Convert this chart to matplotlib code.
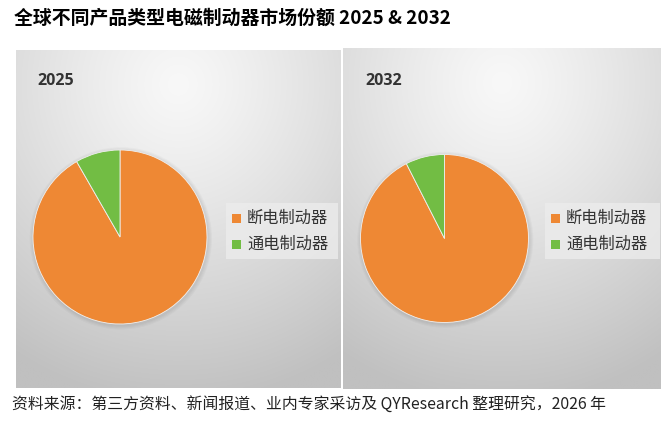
import numpy as np
import matplotlib
matplotlib.use("Agg")
import matplotlib.pyplot as plt
from matplotlib.patches import Rectangle

plt.rcParams['font.family'] = ['Noto Sans CJK SC', 'DejaVu Sans']

# ---- data ----
title = "全球不同产品类型电磁制动器市场份额 2025 & 2032"
years = ["2025", "2032"]
categories = ["断电制动器", "通电制动器"]
share_2025 = [91.7, 8.3]
share_2032 = [92.5, 7.5]
shares = [share_2025, share_2032]
colors = ["#EE8834", "#72BD44"]
source = "资料来源：第三方资料、新闻报道、业内专家采访及 QYResearch 整理研究，2026 年"

W, H = 670, 426
fig = plt.figure(figsize=(W / 100, H / 100), dpi=100)
fig.patch.set_facecolor("white")

def fx(px):
    return px / W

def fy(py):
    return 1 - py / H

def add_axes_px(x0, y0, x1, y1, **kw):
    return fig.add_axes([fx(x0), fy(y1), fx(x1 - x0), (y1 - y0) / H], **kw)

# panels (pixel boxes)
panels = [(16, 50, 341, 388), (343, 48, 661, 389)]
pies = [(120, 237, 87), (444.5, 238.5, 84)]
legends = [(226, 203, 338, 259), (545, 203, 660, 259)]
label_pos = [(37, 81), (365, 81)]

for i, (x0, y0, x1, y1) in enumerate(panels):
    bg = add_axes_px(x0, y0, x1, y1)
    bg.set_axis_off()
    ny, nx = 200, 200
    yy, xx = np.mgrid[0:1:ny * 1j, 0:1:nx * 1j]
    d = np.sqrt(((xx - 0.5) * 1.0) ** 2 + ((yy - 0.1) * 1.0) ** 2)
    d = np.clip(d / 0.95, 0, 1) ** 1.2
    light = np.array([248, 248, 248]) / 255
    dark = np.array([192, 192, 192]) / 255
    img = light[None, None, :] * (1 - d[..., None]) + dark[None, None, :] * d[..., None]
    bg.imshow(img, extent=[0, 1, 0, 1], origin="upper", aspect="auto", interpolation="bilinear")
    bg.set_xlim(0, 1)
    bg.set_ylim(0, 1)

    # pie with soft shadow
    cx, cy, r = pies[i]
    pad = 8
    pax = add_axes_px(cx - r - pad, cy - r - pad, cx + r + pad, cy + r + pad)
    pax.set_axis_off()
    lim = 1 + pad / r
    for k in range(4):
        rr = 1.0 + (k + 1) * 0.012
        circ = plt.Circle((0.01, -0.015), rr, color="black", alpha=0.025, lw=0)
        pax.add_patch(circ)
    pax.pie(shares[i], colors=colors, startangle=90, counterclock=False,
            radius=1.0, wedgeprops=dict(linewidth=0.6, edgecolor="#f0f0f0"))
    pax.set_xlim(-lim, lim)
    pax.set_ylim(-lim, lim)
    pax.set_aspect("equal")

    # year label
    lx, ly = label_pos[i]
    fig.text(fx(lx), fy(ly), years[i], fontsize=11.5, fontweight="bold",
             color="#333333", ha="left", va="center", family=["Open Sans", "DejaVu Sans"])

    # legend
    gx0, gy0, gx1, gy1 = legends[i]
    fig.patches.append(Rectangle((fx(gx0), fy(gy1)), fx(gx1 - gx0), (gy1 - gy0) / H,
                                 transform=fig.transFigure, facecolor="#ececec",
                                 edgecolor="none", alpha=0.8))
    for j, cat in enumerate(categories):
        rowy = gy0 + 15 + j * 26
        sq = 9
        fig.patches.append(Rectangle((fx(gx0 + 6), fy(rowy + sq / 2)), fx(sq), sq / H,
                                     transform=fig.transFigure, facecolor=colors[j],
                                     edgecolor="none"))
        fig.text(fx(gx0 + 21), fy(rowy), cat, fontsize=11.7, color="#333333",
                 ha="left", va="center")

fig.text(fx(14), fy(18), title, fontsize=13.6, fontweight="bold", color="black",
         ha="left", va="center")
fig.text(fx(12), fy(405), source, fontsize=11.4, color="#222222",
         ha="left", va="center")

fig.savefig("out.png", dpi=100, facecolor="white")
